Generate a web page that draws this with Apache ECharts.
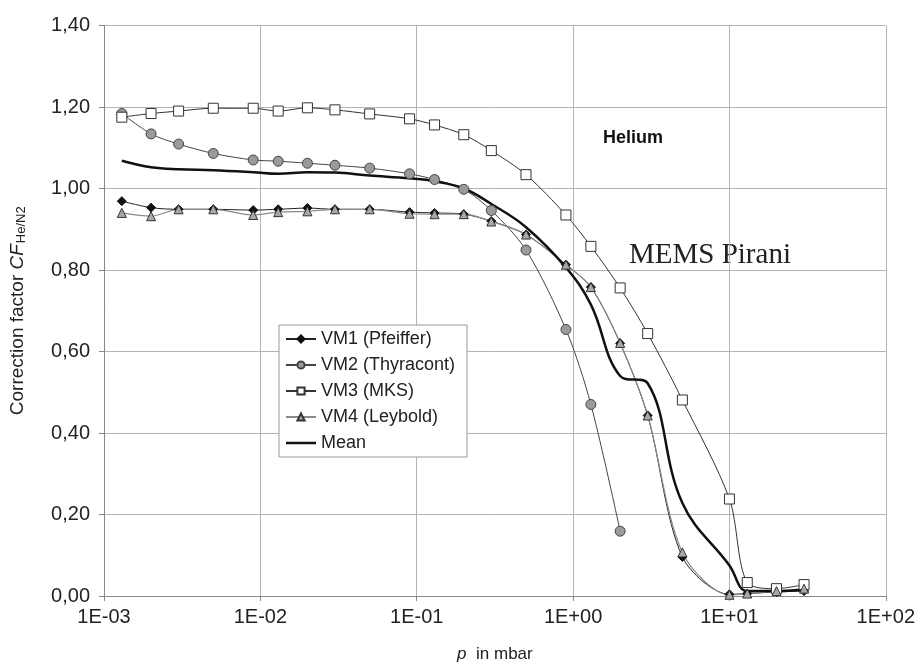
<!DOCTYPE html>
<html>
<head>
<meta charset="utf-8">
<script src="https://cdn.jsdelivr.net/npm/echarts@6/dist/echarts.min.js"></script>
<style>
  html, body { margin: 0; padding: 0; background: #fff; }
  #chart { width: 918px; height: 668px; }
</style>
</head>
<body>
<div id="chart"></div>
<script>
// pressure points in mbar
var pressures = [0.0013, 0.002, 0.003, 0.005, 0.009, 0.013, 0.02, 0.03, 0.05, 0.09, 0.13, 0.2,
                 0.3, 0.5, 0.9, 1.3, 2, 3, 5, 10, 13, 20, 30];

var vm1 = [0.969, 0.953, 0.949, 0.949, 0.947, 0.949, 0.952, 0.949, 0.949, 0.942, 0.940, 0.937,
           0.920, 0.887, 0.813, 0.758, 0.620, 0.443, 0.096, 0.004, 0.006, 0.010, 0.012];
var vm2 = [1.184, 1.134, 1.109, 1.086, 1.070, 1.067, 1.062, 1.057, 1.050, 1.036, 1.022, 0.998,
           0.946, 0.849, 0.654, 0.470, 0.159];
var vm3 = [1.175, 1.184, 1.190, 1.197, 1.197, 1.190, 1.198, 1.193, 1.183, 1.171, 1.156, 1.132,
           1.093, 1.034, 0.935, 0.858, 0.756, 0.644, 0.481, 0.238, 0.033, 0.018, 0.028];
var vm4 = [0.940, 0.932, 0.949, 0.949, 0.935, 0.942, 0.944, 0.949, 0.949, 0.938, 0.937, 0.937,
           0.919, 0.887, 0.813, 0.758, 0.621, 0.443, 0.107, 0.003, 0.006, 0.012, 0.018];
var mean = [1.068, 1.052, 1.047, 1.045, 1.040, 1.036, 1.040, 1.039, 1.032, 1.025, 1.018, 1.000,
            0.962, 0.905, 0.806, 0.715, 0.540, 0.522, 0.228, 0.075, 0.012, 0.012, 0.016];

var seriesNames = ['VM1 (Pfeiffer)', 'VM2 (Thyracont)', 'VM3 (MKS)', 'VM4 (Leybold)', 'Mean'];

function pairs(values) {
    var out = [];
    for (var i = 0; i < values.length; i++) {
        out.push([pressures[i], values[i]]);
    }
    return out;
}

function expLabel(v) {
    var e = Math.round(Math.log10(v));
    var s = e < 0 ? '-' : '+';
    var a = Math.abs(e);
    return '1E' + s + (a < 10 ? '0' : '') + a;
}

var chart = echarts.init(document.getElementById('chart'));

var option = {
    animation: false,
    backgroundColor: '#fff',
    textStyle: { fontFamily: 'Liberation Sans, Arial, sans-serif' },
    grid: { left: 104, right: 32, top: 25.5, bottom: 72, containLabel: false },
    legend: {
        orient: 'vertical',
        left: 279,
        top: 325,
        data: [
            { name: seriesNames[0] },
            { name: seriesNames[1] },
            { name: seriesNames[2] },
            { name: seriesNames[3] },
            { name: seriesNames[4], icon: 'path://M0,0 L30,0 L30,2.5 L0,2.5 Z' }
        ],
        itemWidth: 30,
        itemHeight: 9,
        itemGap: 8,
        padding: [5, 12, 5, 6],
        backgroundColor: '#fff',
        borderColor: '#999',
        borderWidth: 1,
        borderRadius: 0,
        textStyle: { fontSize: 18, color: '#222', lineHeight: 18 }
    },
    xAxis: {
        type: 'log',
        logBase: 10,
        min: 0.001,
        max: 100,
        name: '{i|p}  in mbar',
        nameLocation: 'middle',
        nameGap: 50,
        nameTextStyle: {
            fontSize: 17, color: '#222',
            rich: { i: { fontStyle: 'italic', fontSize: 17, color: '#222' } }
        },
        axisLine: { show: true, lineStyle: { color: '#888', width: 1 } },
        axisTick: { show: true, length: 5, lineStyle: { color: '#888' } },
        minorTick: { show: false },
        axisLabel: { fontSize: 20, color: '#222', margin: 11, formatter: expLabel },
        splitLine: { show: true, lineStyle: { color: '#b4b4b4', width: 1 } }
    },
    yAxis: {
        type: 'value',
        min: 0,
        max: 1.4,
        interval: 0.2,
        name: 'Correction factor {i|CF}{s|He/N2}',
        nameLocation: 'middle',
        nameGap: 76,
        nameTextStyle: {
            fontSize: 19, color: '#222',
            rich: {
                i: { fontStyle: 'italic', fontSize: 19, color: '#222' },
                s: { fontSize: 13, color: '#222', padding: [7, 0, 0, 1] }
            }
        },
        axisLine: { show: true, lineStyle: { color: '#888', width: 1 } },
        axisTick: { show: true, length: 5, lineStyle: { color: '#888' } },
        axisLabel: {
            fontSize: 20, color: '#222', margin: 14,
            formatter: function (v) { return v.toFixed(2).replace('.', ','); }
        },
        splitLine: { show: true, lineStyle: { color: '#b4b4b4', width: 1 } }
    },
    graphic: [
        {
            type: 'text', left: 603, top: 129,
            style: { text: 'Helium', font: 'bold 18px Liberation Sans, Arial, sans-serif', fill: '#111' }
        },
        {
            type: 'text', left: 629, top: 241,
            style: { text: 'MEMS Pirani', font: '29px Liberation Serif, Times New Roman, serif', fill: '#222' }
        }
    ],
    series: [
        {
            name: seriesNames[0], type: 'line', data: pairs(vm1), smooth: 0.3,
            symbol: 'diamond', symbolSize: 9,
            lineStyle: { color: '#222', width: 1 },
            itemStyle: { color: '#111', borderColor: '#111', borderWidth: 1 }
        },
        {
            name: seriesNames[1], type: 'line', data: pairs(vm2), smooth: 0.3,
            symbol: 'circle', symbolSize: 10,
            lineStyle: { color: '#444', width: 1 },
            itemStyle: { color: '#9a9a9a', borderColor: '#444', borderWidth: 1 }
        },
        {
            name: seriesNames[2], type: 'line', data: pairs(vm3), smooth: 0.3,
            symbol: 'rect', symbolSize: 10,
            lineStyle: { color: '#333', width: 1 },
            itemStyle: { color: '#fff', borderColor: '#333', borderWidth: 1 }
        },
        {
            name: seriesNames[3], type: 'line', data: pairs(vm4), smooth: 0.3,
            symbol: 'triangle', symbolSize: 9,
            lineStyle: { color: '#8a8a8a', width: 1.2 },
            itemStyle: { color: '#a8a8a8', borderColor: '#333', borderWidth: 1 }
        },
        {
            name: seriesNames[4], type: 'line', data: pairs(mean), smooth: 0.4,
            symbol: 'none',
            lineStyle: { color: '#111', width: 2.5 },
            itemStyle: { color: '#111' }
        }
    ]
};

chart.setOption(option);
</script>
</body>
</html>
